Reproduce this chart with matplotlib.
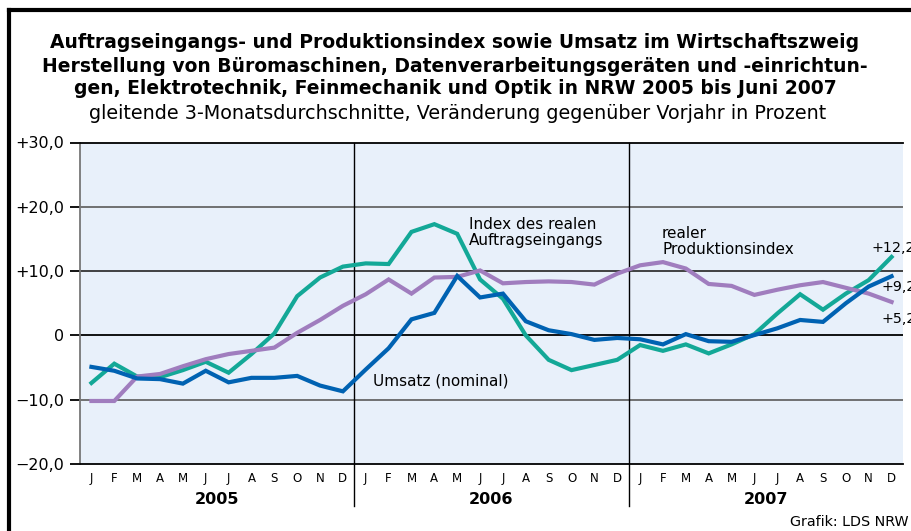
import matplotlib
matplotlib.use("Agg")
import matplotlib.pyplot as plt
from matplotlib.lines import Line2D
import numpy as np

plt.rcParams['font.family'] = ['DejaVu Sans']

months = ["J", "F", "M", "A", "M", "J", "J", "A", "S", "O", "N", "D"]
years = ["2005", "2006", "2007"]

auftrag = [-7.4, -4.4, -6.4, -6.5, -5.4, -4.1, -5.8, -2.9, 0.3, 6.1, 9.0, 10.7,
           11.2, 11.1, 16.1, 17.3, 15.8, 8.7, 5.7, 0.0, -3.8, -5.4, -4.6, -3.8,
           -1.5, -2.4, -1.4, -2.8, -1.4, 0.2, 3.4, 6.4, 4.0, 6.5, 8.6, 12.2]
produktion = [-10.2, -10.2, -6.4, -6.0, -4.8, -3.7, -2.9, -2.4, -1.9, 0.4, 2.4, 4.6,
              6.4, 8.7, 6.5, 9.0, 9.1, 10.1, 8.1, 8.3, 8.4, 8.3, 7.9, 9.6,
              10.9, 11.4, 10.4, 8.0, 7.7, 6.3, 7.1, 7.8, 8.3, 7.4, 6.5, 5.2]
umsatz = [-4.9, -5.5, -6.7, -6.8, -7.5, -5.5, -7.3, -6.6, -6.6, -6.3, -7.8, -8.7,
          -5.3, -2.0, 2.5, 3.5, 9.25, 5.9, 6.5, 2.2, 0.8, 0.2, -0.7, -0.4,
          -0.6, -1.4, 0.2, -0.9, -1.0, 0.05, 1.1, 2.4, 2.1, 5.0, 7.6, 9.2]
yticks = [-20, -10, 0, 10, 20, 30]
ytick_labels = ["\u221220,0", "\u221210,0", "0", "+10,0", "+20,0", "+30,0"]
end_labels = ["+12,2", "+9,2", "+5,2"]

W, H = 911, 531
fig = plt.figure(figsize=(W / 100, H / 100), dpi=100)
fig.patch.set_facecolor("white")

# frame lines (left and top)
fig.add_artist(Line2D([9 / W, 9 / W], [0, 1 - 10 / H], color="black", lw=3,
                      transform=fig.transFigure))
fig.add_artist(Line2D([9 / W, 1], [1 - 10 / H, 1 - 10 / H], color="black", lw=3,
                      transform=fig.transFigure))

# titles
title_lines = [
    "Auftragseingangs- und Produktionsindex sowie Umsatz im Wirtschaftszweig",
    "Herstellung von Büromaschinen, Datenverarbeitungsgeräten und -einrichtun-",
    "gen, Elektrotechnik, Feinmechanik und Optik in NRW 2005 bis Juni 2007",
]
baselines = [48.5, 71.5, 93.5]
for t, y in zip(title_lines, baselines):
    fig.text(455 / W, 1 - y / H, t, ha="center", va="baseline", fontsize=13.5,
             fontweight="bold", color="black")
fig.text(458 / W, 1 - 119 / H,
         "gleitende 3-Monatsdurchschnitte, Veränderung gegenüber Vorjahr in Prozent",
         ha="center", va="baseline", fontsize=13.8, color="black")

ax = fig.add_axes([80 / W, (H - 464) / H, 823 / W, (464 - 142.5) / H])
ax.set_facecolor("#E8F0FA")
ax.set_xlim(0, 36)
ax.set_ylim(-20, 30)

for v in [-10, 20]:
    ax.axhline(v, color="#666666", lw=1.3, zorder=1)
for v in [10]:
    ax.axhline(v, color="#333333", lw=1.3, zorder=1)
ax.axhline(0, color="black", lw=1.3, zorder=1)

ax.spines["right"].set_visible(False)
ax.spines["top"].set_color("black")
ax.spines["bottom"].set_color("black")
ax.spines["left"].set_color("#777777")
for s in ["top", "bottom", "left"]:
    ax.spines[s].set_linewidth(1.3)

ax.set_yticks(yticks)
ax.set_yticklabels(ytick_labels, fontsize=11.5)
ax.tick_params(axis="y", length=7.2, width=1.3, color="black", pad=4.3)
ax.set_xticks([])

# year dividers
for xd in [12, 24]:
    ax.add_line(Line2D([xd, xd], [1, -0.13], color="black", lw=1,
                       transform=ax.get_xaxis_transform(), clip_on=False, zorder=2))

x = np.arange(36) + 0.5
ax.plot(x, auftrag, color="#13A897", lw=3, zorder=3, solid_joinstyle="miter")
ax.plot(x, produktion, color="#A07DBE", lw=3, zorder=3, solid_joinstyle="miter")
ax.plot(x, umsatz, color="#0062B2", lw=3, zorder=4, solid_joinstyle="miter")

# month and year labels
tr = ax.get_xaxis_transform()
for i in range(36):
    ax.text(x[i], -0.045, months[i % 12], transform=tr, ha="center", va="center",
            fontsize=8.5)
for k, yr in enumerate(years):
    ax.text(12 * k + 6, -0.11, yr, transform=tr, ha="center", va="center",
            fontsize=11.5, fontweight="bold")

# annotations
fs = 11
ax.text(17.0, 16.53, "Index des realen", fontsize=fs, ha="left", va="baseline")
ax.text(17.0, 14.04, "Auftragseingangs", fontsize=fs, ha="left", va="baseline")
ax.text(25.46, 15.2, "realer", fontsize=fs, ha="left", va="baseline")
ax.text(25.46, 12.64, "Produktionsindex", fontsize=fs, ha="left", va="baseline")
ax.text(12.82, -7.73, "Umsatz (nominal)", fontsize=fs, ha="left", va="baseline")

efs = 10.3
ax.text(34.62, 13.0, end_labels[0], fontsize=efs, ha="left", va="baseline", clip_on=False)
ax.text(35.05, 6.94, end_labels[1], fontsize=efs, ha="left", va="baseline", clip_on=False)
ax.text(35.05, 1.96, end_labels[2], fontsize=efs, ha="left", va="baseline", clip_on=False)

fig.text(909 / W, 1 - 526 / H, "Grafik: LDS NRW", ha="right", va="baseline",
         fontsize=10.3)

fig.savefig("out.png", dpi=100)
